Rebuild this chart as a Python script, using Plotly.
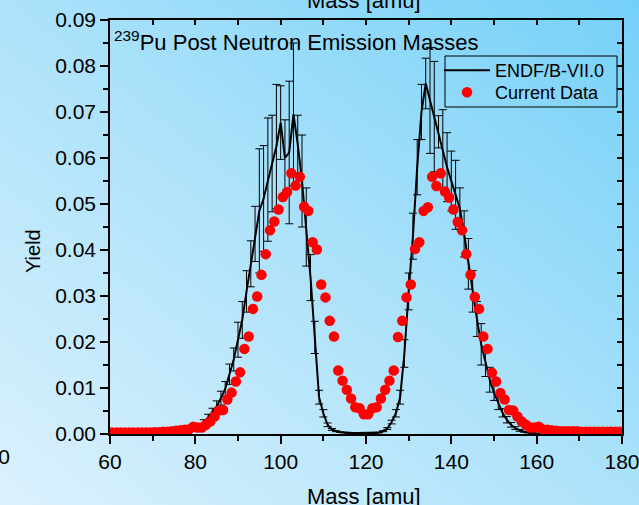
import base64
import plotly.graph_objects as go

# ---------------- data ----------------
endf_mass = list(range(60, 181))
endf_yield = (
    [0.0001] * 14 +                                   # 60-73
    [0.0002, 0.0002, 0.0003, 0.0004, 0.0006, 0.0009,  # 74-79
     0.0013, 0.0019, 0.0026, 0.0036, 0.0047, 0.0060,  # 80-85
     0.0078, 0.0098, 0.0130, 0.0162, 0.0205, 0.0248,  # 86-91
     0.0310, 0.0370, 0.0435, 0.0485, 0.0512, 0.0553,  # 92-97
     0.0588, 0.0625, 0.0677, 0.0600, 0.0612, 0.0695,  # 98-103
     0.0630, 0.0550, 0.0450, 0.0340, 0.0210, 0.0080,  # 104-109
     0.0045, 0.0020, 0.0010, 0.0006, 0.0004, 0.0003,  # 110-115
     0.0002, 0.0002, 0.0002, 0.0002, 0.0002, 0.0002,  # 116-121
     0.0002, 0.0003, 0.0006, 0.0012, 0.0026, 0.0045,  # 122-127
     0.0080, 0.0175, 0.0310, 0.0430, 0.0580, 0.0700,  # 128-133
     0.0762, 0.0725, 0.0690, 0.0657, 0.0620, 0.0580,  # 134-139
     0.0550, 0.0520, 0.0490, 0.0435, 0.0370, 0.0310,  # 140-145
     0.0250, 0.0195, 0.0155, 0.0118, 0.0090, 0.0066,  # 146-151
     0.0046, 0.0031, 0.0020, 0.0013, 0.0008, 0.0005,  # 152-157
     0.0003, 0.0002] +                                # 158-159
    [0.0001] * 21                                     # 160-180
)
endf_err = (
    [0.00002] * 14 +
    [0.00003, 0.00003, 0.00005, 0.00006, 0.0001, 0.00015,
     0.0003, 0.0004, 0.0005, 0.0007, 0.0009, 0.0012,
     0.0015, 0.0016, 0.0022, 0.0025, 0.0038, 0.0040,
     0.0045, 0.0050, 0.0060, 0.0135, 0.0115, 0.0134,
     0.0105, 0.0135, 0.0080, 0.0083, 0.0155, 0.0155,
     0.0063, 0.0100, 0.0085, 0.0050, 0.0035, 0.0015,
     0.0008, 0.0004, 0.0002, 0.0001, 0.00006, 0.00005,
     0.00004, 0.00004, 0.00004, 0.00004, 0.00004, 0.00004,
     0.00004, 0.00005, 0.0001, 0.0002, 0.0004, 0.0008,
     0.0015, 0.0030, 0.0040, 0.0050, 0.0060, 0.0060,
     0.0055, 0.0115, 0.0120, 0.0035, 0.0085, 0.0075,
     0.0065, 0.0075, 0.0045, 0.0050, 0.0055, 0.0045,
     0.0038, 0.0045, 0.0030, 0.0027, 0.0017, 0.0013,
     0.0009, 0.0007, 0.0005, 0.0003, 0.0002, 0.0001,
     0.00006, 0.00004] +
    [0.00002] * 21
)

cur_mass = [m + 0.5 for m in range(60, 180)]
cur_yield = (
    [0.0003] * 10 +                                   # 60.5-69.5
    [0.0004, 0.0004, 0.0005, 0.0005, 0.0006,          # 70.5-74.5
     0.0007, 0.0008, 0.0009, 0.0010, 0.0016,          # 75.5-79.5
     0.0014, 0.0014, 0.0020, 0.0027, 0.0038,          # 80.5-84.5
     0.0051, 0.0052, 0.0075, 0.0090, 0.0114,          # 85.5-89.5
     0.0134, 0.0185, 0.0212, 0.0272, 0.0299,          # 90.5-94.5
     0.0346, 0.0391, 0.0443, 0.0462, 0.0488,          # 95.5-99.5
     0.0515, 0.0526, 0.0567, 0.0540, 0.0559,          # 100.5-104.5
     0.0494, 0.0485, 0.0417, 0.0401, 0.0325,          # 105.5-109.5
     0.0297, 0.0246, 0.0212, 0.0138, 0.0116,          # 110.5-114.5
     0.0096, 0.0077, 0.0058, 0.0056, 0.0043,          # 115.5-119.5
     0.0043, 0.0056, 0.0058, 0.0077, 0.0096,          # 120.5-124.5
     0.0116, 0.0138, 0.0211, 0.0246, 0.0297,          # 125.5-129.5
     0.0325, 0.0402, 0.0417, 0.0485, 0.0493,          # 130.5-134.5
     0.0559, 0.0539, 0.0567, 0.0527, 0.0514,          # 135.5-139.5
     0.0488, 0.0461, 0.0443, 0.0391, 0.0346,          # 140.5-144.5
     0.0298, 0.0272, 0.0212, 0.0185, 0.0133,          # 145.5-149.5
     0.0114, 0.0089, 0.0075, 0.0052, 0.0051,          # 150.5-154.5
     0.0038, 0.0027, 0.0020, 0.0014, 0.0014,          # 155.5-159.5
     0.0016, 0.0010, 0.0009, 0.0008, 0.0007,          # 160.5-164.5
     0.0006, 0.0006, 0.0006, 0.0006, 0.0006] +        # 165.5-169.5
    [0.0005] * 10                                     # 170.5-179.5
)

x_ticks = [60, 80, 100, 120, 140, 160, 180]
y_ticks = [0.00, 0.01, 0.02, 0.03, 0.04, 0.05, 0.06, 0.07, 0.08, 0.09]

# ---------------- figure ----------------
W, H = 639, 505
L, R, T, B = 110, 17, 20, 71
pw, ph = W - L - R, H - T - B

svg = f'''<svg xmlns="http://www.w3.org/2000/svg" width="{W}" height="{H}" viewBox="0 0 {W} {H}" preserveAspectRatio="none">
<defs><linearGradient id="g" x1="0" y1="1" x2="1" y2="0">
<stop offset="0" stop-color="#dcf1fd"/>
<stop offset="0.5" stop-color="#ace2fa"/>
<stop offset="1" stop-color="#74d0f8"/>
</linearGradient></defs>
<rect width="{W}" height="{H}" fill="url(#g)"/></svg>'''
bg_uri = "data:image/svg+xml;base64," + base64.b64encode(svg.encode()).decode()

FONT = "Liberation Sans, Arial, sans-serif"


def px_x(p):
    return (p - L) / pw


def px_y(p):
    return 1 - (p - T) / ph


fig = go.Figure()
fig.add_trace(go.Scatter(
    x=endf_mass, y=endf_yield, mode="lines", name="ENDF/B-VII.0",
    line=dict(color="black", width=2), legend="legend",
    error_y=dict(type="data", array=endf_err, visible=True,
                 color="black", thickness=1, width=4),
))
fig.add_trace(go.Scatter(
    x=cur_mass, y=cur_yield, mode="markers", name="Current Data",
    legend="legend2",
    marker=dict(color="#ff0000", size=10.5, line=dict(width=0)),
))
# dummy trace to activate mirrored axes
fig.add_trace(go.Scatter(x=[60], y=[0], xaxis="x2", yaxis="y2",
                         mode="markers", marker=dict(opacity=0),
                         showlegend=False, hoverinfo="skip"))

axis_common = dict(showgrid=False, zeroline=False, showline=True,
                   linecolor="black", linewidth=1.5, tickcolor="black",
                   tickwidth=1.5, automargin=False)

legend_common = dict(xanchor="left", yanchor="top", bgcolor="rgba(0,0,0,0)",
                     borderwidth=0, font=dict(size=18, family=FONT),
                     itemwidth=46, tracegroupgap=0)

fig.update_layout(
    width=W, height=H,
    margin=dict(l=L, r=R, t=T, b=B, pad=0, autoexpand=False),
    paper_bgcolor="white", plot_bgcolor="rgba(0,0,0,0)",
    font=dict(family=FONT, color="black", size=21),
    showlegend=True,
    legend=dict(x=px_x(439), y=px_y(52), **legend_common),
    legend2=dict(x=px_x(439), y=px_y(74), **legend_common),
    xaxis=dict(range=[60, 180], tickvals=x_ticks, ticks="outside", ticklen=8,
               tickfont=dict(size=21), ticklabeloverflow="allow",
               minor=dict(dtick=10, tick0=60, ticks="outside", ticklen=5,
                          tickcolor="black", tickwidth=1.5),
               **axis_common),
    yaxis=dict(range=[0, 0.09], tickvals=y_ticks, tickformat=".2f",
               ticks="outside", ticklen=8, tickfont=dict(size=21),
               ticklabeloverflow="allow",
               minor=dict(dtick=0.005, tick0=0, ticks="outside", ticklen=5,
                          tickcolor="black", tickwidth=1.5),
               **axis_common),
    xaxis2=dict(range=[60, 180], overlaying="x", side="top", dtick=10,
                tick0=60, ticks="inside", ticklen=5, showticklabels=False,
                **axis_common),
    yaxis2=dict(range=[0, 0.09], overlaying="y", side="right", dtick=0.005,
                tick0=0, ticks="inside", ticklen=5, showticklabels=False,
                **axis_common),
    images=[dict(source=bg_uri, xref="paper", yref="paper",
                 x=-L / pw, y=1 + T / ph, sizex=W / pw, sizey=H / ph,
                 xanchor="left", yanchor="top", sizing="stretch",
                 layer="below")],
    shapes=[dict(type="rect", xref="paper", yref="paper",
                 x0=px_x(445), x1=px_x(617), y0=px_y(107), y1=px_y(56),
                 line=dict(color="black", width=1), fillcolor="rgba(0,0,0,0)")],
)

annotations = [
    dict(text="<sup>239</sup>Pu Post Neutron Emission Masses",
         x=px_x(112), y=px_y(57), xref="paper", yref="paper",
         xanchor="left", yanchor="bottom", showarrow=False,
         font=dict(size=22, family=FONT)),
    dict(text="Mass [amu]", x=px_x(364), y=px_y(482),
         xref="paper", yref="paper", xanchor="center", yanchor="top",
         showarrow=False, font=dict(size=22, family=FONT)),
    dict(text="Mass [amu]", x=px_x(364), y=px_y(15),
         xref="paper", yref="paper", xanchor="center", yanchor="bottom",
         showarrow=False, font=dict(size=22, family=FONT)),
    dict(text="Yield", x=px_x(33), y=px_y(251), xref="paper", yref="paper",
         xanchor="center", yanchor="middle", textangle=-90, showarrow=False,
         font=dict(size=20, family=FONT)),
    dict(text="180", x=px_x(12), y=px_y(443),
         xref="paper", yref="paper", xanchor="right", yanchor="top",
         showarrow=False, font=dict(size=21, family=FONT)),
]
fig.update_layout(annotations=annotations)

fig.write_html("out.html", config={"displayModeBar": False},
               post_script="document.body.style.margin='0px';")
